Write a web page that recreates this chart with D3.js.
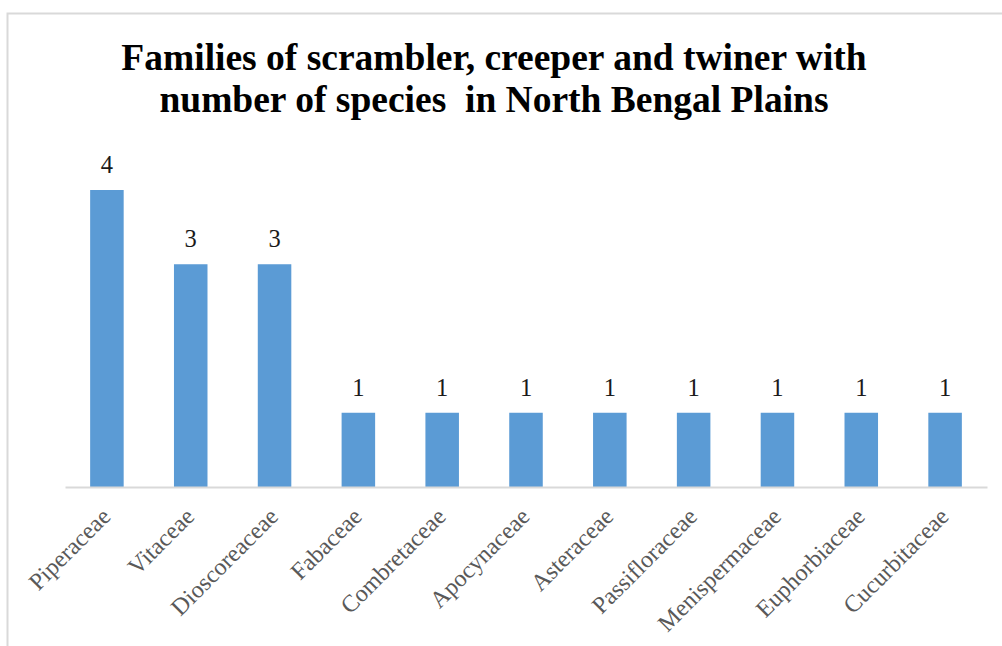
<!DOCTYPE html>
<html><head><meta charset="utf-8">
<script src="https://cdn.jsdelivr.net/npm/d3@7"></script>
<style>body{margin:0;background:#fff}svg{display:block}</style>
</head><body><svg id="c" width="1002" height="646"></svg>
<script>
const categories = ["Piperaceae","Vitaceae","Dioscoreaceae","Fabaceae","Combretaceae","Apocynaceae","Asteraceae","Passifloraceae","Menispermaceae","Euphorbiaceae","Cucurbitaceae"];
const values = [4,3,3,1,1,1,1,1,1,1,1];
const titleLines = ["Families of scrambler, creeper and twiner with","number of species  in North Bengal Plains"];

const svg = d3.select("#c");
const serif = "'Liberation Serif','Times New Roman',serif";
svg.append("rect").attr("x",7.5).attr("y",13.5).attr("width",1010).attr("height",700)
  .attr("fill","#fff").attr("stroke","#d9d9d9").attr("stroke-width",2);

const x = d3.scaleBand().domain(categories).range([65,987]).paddingInner(0.6).paddingOuter(0.3);
const y = d3.scaleLinear().domain([0,4]).range([487,190]);

svg.append("g").selectAll("text").data(titleLines).join("text")
  .attr("x",494).attr("y",(d,i)=>70+i*42).attr("text-anchor","middle")
  .style("white-space","pre")
  .attr("font-family",serif).attr("font-weight","bold").attr("font-size",37.5).attr("fill","#000")
  .text(d=>d);

svg.append("g").selectAll("rect").data(values).join("rect")
  .attr("x",(d,i)=>x(categories[i])).attr("width",x.bandwidth())
  .attr("y",d=>y(d)).attr("height",d=>y(0)-y(d)).attr("fill","#5b9bd5");

svg.append("g").selectAll("text").data(values).join("text")
  .attr("x",(d,i)=>x(categories[i])+x.bandwidth()/2).attr("y",d=>y(d)-17)
  .attr("text-anchor","middle").attr("font-family",serif).attr("font-size",24.5).attr("fill","#1a1a1a")
  .text(d=>d);

const ax = svg.append("g").attr("transform","translate(0,487)")
  .call(d3.axisBottom(x).tickSize(0).tickPadding(0));
ax.select(".domain").attr("stroke","#d9d9d9").attr("stroke-width",2);
ax.selectAll(".tick text")
  .attr("font-family",serif).attr("font-size",24).attr("fill","#595959")
  .attr("text-anchor","end").attr("dy",null).attr("y",0)
  .attr("transform","translate(5,31) rotate(-45)");
</script></body></html>
